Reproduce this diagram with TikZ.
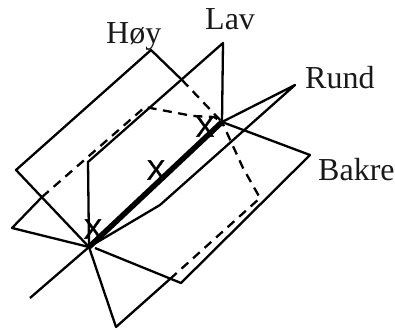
\documentclass[tikz,border=0pt]{standalone}
\usepackage{fontspec}
\setmainfont{Liberation Serif}
\newfontfamily\xfont[FakeBold=1.2]{Liberation Sans}
\begin{document}
\begin{tikzpicture}[x=1pt,y=-1pt,
  plane/.style={line width=2.3pt,line join=round},
  hidden/.style={line width=2.3pt,dash pattern=on 9pt off 6.5pt},
  ridge/.style={line width=5.5pt},
  lbl/.style={font=\fontsize{32}{32}\selectfont,inner sep=0pt,anchor=base west,text=black!90},
  xmark/.style={font=\xfont\fontsize{28}{28}\selectfont,inner sep=0pt}]
\useasboundingbox (0,0) rectangle (395,329);
\coordinate (hoy) at (151,50);
\coordinate (hoyL) at (16,170);
\coordinate (lav) at (223,43);
\coordinate (lavB) at (88,162);
\coordinate (rund) at (295,85);
\coordinate (rundB) at (160,205);
\coordinate (bak) at (310,155);
\coordinate (bakB) at (181,283);
\coordinate (A) at (89,247);
\coordinate (B) at (222,122);
\coordinate (tail) at (30,298);
\coordinate (low) at (116,327);
\coordinate (lowC) at (170,279);
\coordinate (lef) at (12,228);
\coordinate (lefE) at (42,197);
\coordinate (hoyE) at (182,80);
\coordinate (top) at (145,107);
\coordinate (d1) at (193,116);
\coordinate (d1b) at (214,117);
\coordinate (d2) at (260,198);
\coordinate (d3) at (243,168);
\draw[plane] (hoyE) -- (hoy) -- (hoyL) -- (A);
\draw[plane] (B) -- (lav) -- (lavB) -- (A);
\draw[plane] (A) -- (lef) -- (lefE);
\draw[hidden] (lefE) -- (top) -- (d1) -- (d1b) -- (B);
\draw[hidden] (hoyE) -- (B);
\draw[plane] (tail) -- (A) -- (B) -- (rund) -- (rundB) -- (A);
\draw[plane] (B) -- (bak) -- (bakB) -- (95,248);
\draw[plane] (A) -- (low) -- (lowC);
\draw[hidden] (lowC) -- (d2) -- (d3) -- (B);
\draw[ridge] (A) -- (B);
\node[lbl] (t1) at (106,43) {Høy};
\node[lbl] (t2) at (205,30) {Lav};
\node[lbl] (t3) at (305,88) {Rund};
\node[lbl] (t4) at (318,180) {Bakre};
\node[xmark] (x1) at (93,229) {X};
\node[xmark] (x2) at (156,170) {X};
\node[xmark] (x3) at (205,127) {X};
\end{tikzpicture}
\end{document}
